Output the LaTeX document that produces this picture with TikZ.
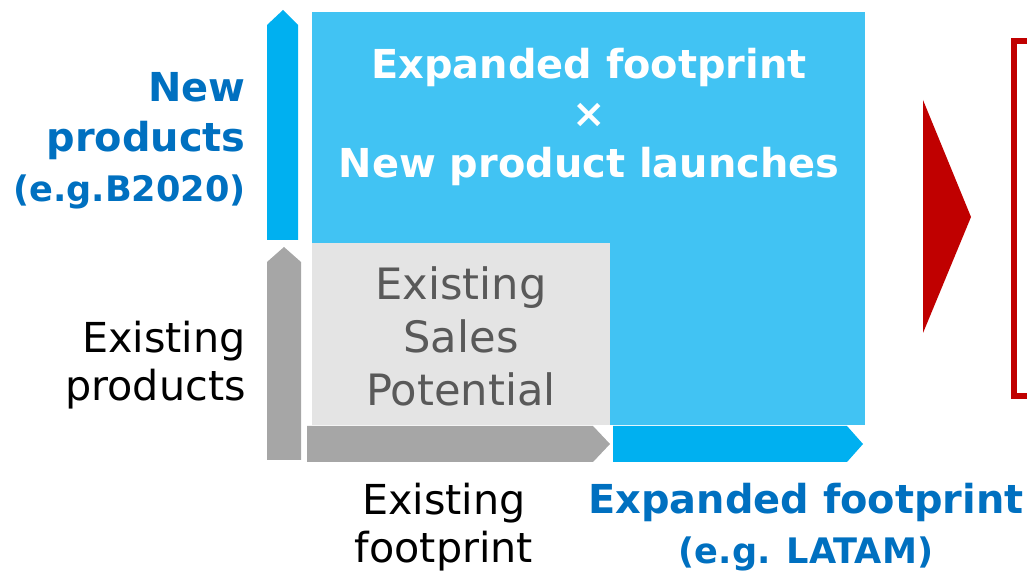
\documentclass[tikz,border=0pt]{standalone}
\usepackage{fontspec}
\setmainfont{DejaVu Sans}
\usepackage{tikz}
\usetikzlibrary{
  positioning
}
\definecolor{axisblue}{HTML}{00B0F0}
\definecolor{fieldblue}{HTML}{41C3F3}
\definecolor{axisgrey}{HTML}{A6A6A6}
\definecolor{fieldgrey}{HTML}{E4E4E4}
\definecolor{labelblue}{HTML}{0070C0}
\definecolor{textgrey}{HTML}{595959}
\definecolor{alertred}{HTML}{C00000}
\tikzset{
  bigtext/.style={
    font=\fontsize{23.5}{27.5}\selectfont,
    inner sep=0pt,
    align=center
  },
  sidetext/.style={
    bigtext,
    align=right
  },
  bluetext/.style={
    text=labelblue,
    font=\fontsize{22.7}{28.5}\selectfont\bfseries
  }
}

\begin{document}
\begin{tikzpicture}[x=0.02cm, y=-0.02cm]
  \useasboundingbox (0,0) rectangle (1027,573);
  % fields
  \fill[fieldblue] (312,12) rectangle (865,425);
  \fill[fieldgrey] (312,243) rectangle (610,425);
  % axes
  \fill[axisblue] (267,240) -- (267,25) -- (283,10) -- (298,25) -- (298,240) -- cycle;
  \fill[axisgrey] (267,460) -- (267,262) -- (284,247) -- (301,262) -- (301,460) -- cycle;
  \fill[axisgrey] (307,426) -- (593,426) -- (610,444) -- (593,462) -- (307,462) -- cycle;
  \fill[axisblue] (613,426) -- (847,426) -- (863,444) -- (847,462) -- (613,462) -- cycle;
  % red pointer and frame
  \fill[alertred] (923,100) -- (971,217) -- (923,333) -- cycle;
  \draw[alertred, line width=3.2pt] (1060,41) -- (1014,41) -- (1014,396) -- (1060,396);
  % texts in fields
  \node[bigtext, text=white, font=\fontsize{22.7}{29}\selectfont\bfseries] (newnew)
    at (589,117) {Expanded footprint\\[-1pt]×\\[-1pt]New product launches};
  \node[bigtext, text=textgrey, font=\fontsize{24.6}{30.2}\selectfont] (oldold)
    at (461,336) {Existing\\Sales\\Potential};
  % axis labels
  \node[sidetext, bluetext, anchor=north east] (newprod) at (246,72)
    {New\\products\\{\fontsize{20}{28}\selectfont(e.g.B2020)}};
  \node[sidetext, anchor=east] (oldprod) at (246,365) {Existing\\products};
  \node[bigtext] (oldfoot) at (444,527) {Existing\\footprint};
  \node[bigtext, bluetext] (newfoot) at (806,527)
    {Expanded footprint\\{\fontsize{20}{29}\selectfont(e.g. LATAM)}};
\end{tikzpicture}
\end{document}
